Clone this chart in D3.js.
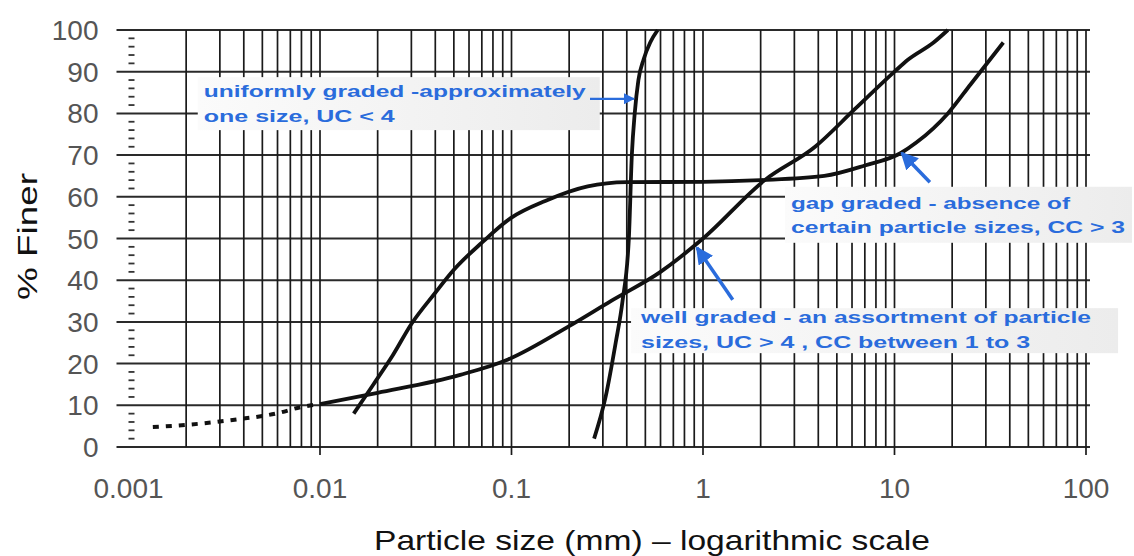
<!DOCTYPE html>
<html>
<head>
<meta charset="utf-8">
<script src="https://cdn.jsdelivr.net/npm/d3@7"></script>
<style>
  body { margin: 0; background: #fff; }
  svg { display: block; font-family: "Liberation Sans", Arial, sans-serif; }
</style>
</head>
<body>
<svg width="1134" height="556"></svg>
<script>
var canvas = d3.select("svg");

var iWidth = +canvas.attr("width");
var iHeight = +canvas.attr("height");

var margin = { top: 30, right: 48, bottom: 109, left: 128.5 };
var iInnerWidth = iWidth - margin.left - margin.right;
var iInnerHeight = iHeight - margin.top - margin.bottom;

var colorGrid = "#1a1a1a";
var colorCurve = "#111111";
var colorNote = "#2a6cdc";
var colorTick = "#555555";

// tick labels
var xTicks = [0.001, 0.01, 0.1, 1, 10, 100];
var xTickLabels = ["0.001", "0.01", "0.1", "1", "10", "100"];
var yTicks = [0, 10, 20, 30, 40, 50, 60, 70, 80, 90, 100];

// curves: [size mm, % finer]
var uniformSize = [0.27, 0.31, 0.35, 0.38, 0.41, 0.425, 0.44, 0.46, 0.49, 0.53, 0.58];
var uniformFiner = [2, 12, 25, 35, 50, 70, 80, 88, 93, 97, 100];

var gapSize = [0.015, 0.019, 0.024, 0.03, 0.04, 0.05, 0.07, 0.1, 0.15, 0.25, 0.4, 1, 2, 4.3, 7, 10.8, 13, 19, 25, 37];
var gapFiner = [8, 15, 22, 29.5, 37, 42.5, 49, 55, 59, 62.5, 63.5, 63.6, 64, 65, 67.5, 70.5, 73, 80, 87, 97];

var wellDottedSize = [0.00134, 0.002, 0.0035, 0.006, 0.008, 0.01];
var wellDottedFiner = [4.8, 5.3, 6.5, 8.1, 9.6, 10.3];
var wellSize = [0.01, 0.02, 0.054, 0.096, 0.2, 0.33, 0.6, 1, 2.1, 3.85, 6.2, 10, 11.7, 16, 19];
var wellFiner = [10.3, 13, 17.3, 21, 29, 35, 42, 50, 64, 72, 81, 90, 92.8, 97, 100];

// annotations
var noteNames = ["uniform", "gap", "well"];
var noteLines = [
    ["uniformly graded -approximately", "one size, UC < 4"],
    ["gap graded - absence of", "certain particle sizes, CC > 3"],
    ["well graded - an assortment of particle", "sizes, UC > 4 , CC between 1 to 3"]
];
var noteBoxAt = [[0.0023, 88.7], [2.68, 62.4], [0.421, 33.3]];
var noteArrowFrom = [[0.257, 83.5], [15.3, 63.5], [1.43, 35.3]];
var noteArrowTo = [[0.435, 83.5], [10.9, 70.5], [0.93, 47.8]];

var xScale = d3.scaleLog()
    .domain([0.001, 100])
    .range([0, iInnerWidth]);

var yScale = d3.scaleLinear()
    .domain([0, 100])
    .range([iInnerHeight, 0]);

var plot = canvas.append("g")
    .attr("transform", `translate(${margin.left},${margin.top})`);

// horizontal grid
plot.append("g").selectAll("line")
    .data(yTicks)
    .enter()
    .append("line")
    .attr("x1", -12)
    .attr("x2", iInnerWidth + 4)
    .attr("y1", d => yScale(d))
    .attr("y2", d => yScale(d))
    .attr("stroke", "#2a2a2a")
    .attr("stroke-width", 2);

// vertical grid: 2..9 of every decade plus decade lines
var vLines = [];
for (var dec = 0.001; dec < 100; dec *= 10) {
    for (var k = 2; k <= 10; k++) vLines.push(+(dec * k).toPrecision(3));
}
plot.append("g").selectAll("line")
    .data(vLines)
    .enter()
    .append("line")
    .attr("x1", d => xScale(d))
    .attr("x2", d => xScale(d))
    .attr("y1", 0)
    .attr("y2", d => xTicks.indexOf(d) >= 0 ? iInnerHeight + 8 : iInnerHeight)
    .attr("stroke", colorGrid)
    .attr("stroke-width", 1.7);

// small y ticks every 2%
var yMinor = d3.range(2, 100, 2).filter(d => d % 10 !== 0);
plot.append("g").selectAll("line")
    .data(yMinor)
    .enter()
    .append("line")
    .attr("x1", 0)
    .attr("x2", 6)
    .attr("y1", d => yScale(d))
    .attr("y2", d => yScale(d))
    .attr("stroke", "#333")
    .attr("stroke-width", 1.8);

// tick labels
plot.append("g").selectAll("text")
    .data(yTicks)
    .enter()
    .append("text")
    .attr("x", -30)
    .attr("y", d => yScale(d) + 10)
    .attr("text-anchor", "end")
    .attr("font-size", 28)
    .attr("fill", colorTick)
    .text(d => d);

plot.append("g").selectAll("text")
    .data(xTicks)
    .enter()
    .append("text")
    .attr("x", d => xScale(d))
    .attr("y", iInnerHeight + 51)
    .attr("text-anchor", "middle")
    .attr("font-size", 28)
    .attr("fill", colorTick)
    .text((d, i) => xTickLabels[i]);

// note boxes sit over the grid
var noteBoxSize = [[402, 53], [347, 56], [487, 45]];
var noteTextDx = [6, 6, 10];
var noteTextDy = [[20, 45], [22, 46], [15, 40]];
var noteTextW = [[382, 191], [279, 334], [450, 389]];

var grad = canvas.append("defs").append("linearGradient").attr("id", "boxfill");
grad.append("stop").attr("offset", "0%").attr("stop-color", "#fbfbfb");
grad.append("stop").attr("offset", "100%").attr("stop-color", "#ececec");

var notes = plot.append("g").selectAll("g")
    .data(noteNames)
    .enter()
    .append("g")
    .attr("transform", (d, i) => `translate(${xScale(noteBoxAt[i][0])},${yScale(noteBoxAt[i][1])})`);

notes.append("rect")
    .attr("width", (d, i) => noteBoxSize[i][0])
    .attr("height", (d, i) => noteBoxSize[i][1])
    .attr("fill", "url(#boxfill)");

notes.each(function (d, i) {
    var g = d3.select(this);
    noteLines[i].forEach(function (line, j) {
        g.append("text")
            .attr("x", noteTextDx[i])
            .attr("y", noteTextDy[i][j])
            .attr("font-size", 16)
            .attr("font-weight", "bold")
            .attr("fill", colorNote)
            .attr("textLength", noteTextW[i][j])
            .attr("lengthAdjust", "spacingAndGlyphs")
            .text(line);
    });
});

// curves
var line = d3.line()
    .x(d => xScale(d[0]))
    .y(d => yScale(d[1]))
    .curve(d3.curveMonotoneX);

function pairs(xs, ys) {
    return xs.map((v, i) => [v, ys[i]]);
}

var curves = [pairs(uniformSize, uniformFiner), pairs(gapSize, gapFiner), pairs(wellSize, wellFiner)];

plot.append("g").selectAll("path")
    .data(curves)
    .enter()
    .append("path")
    .attr("d", line)
    .attr("fill", "none")
    .attr("stroke", colorCurve)
    .attr("stroke-width", 3.8)
    .attr("stroke-linejoin", "round");

plot.append("path")
    .attr("d", line(pairs(wellDottedSize, wellDottedFiner)))
    .attr("fill", "none")
    .attr("stroke", colorCurve)
    .attr("stroke-width", 4)
    .attr("stroke-dasharray", "6,7");

// arrows
canvas.select("defs").append("marker")
    .attr("id", "head")
    .attr("viewBox", "0 0 10 10")
    .attr("refX", 9)
    .attr("refY", 5)
    .attr("markerWidth", 5)
    .attr("markerHeight", 5)
    .attr("orient", "auto")
    .append("path")
    .attr("d", "M0,0 L10,5 L0,10 z")
    .attr("fill", colorNote);

plot.append("g").selectAll("line")
    .data(noteNames)
    .enter()
    .append("line")
    .attr("x1", (d, i) => xScale(noteArrowFrom[i][0]))
    .attr("y1", (d, i) => yScale(noteArrowFrom[i][1]))
    .attr("x2", (d, i) => xScale(noteArrowTo[i][0]))
    .attr("y2", (d, i) => yScale(noteArrowTo[i][1]))
    .attr("stroke", colorNote)
    .attr("stroke-width", (d, i) => i === 0 ? 2.2 : 3.5)
    .attr("marker-end", "url(#head)");

// axis titles
canvas.append("text")
    .attr("transform", "translate(37,300) rotate(-90)")
    .attr("font-size", 27)
    .attr("fill", "#111")
    .attr("textLength", 127)
    .attr("lengthAdjust", "spacingAndGlyphs")
    .text("% Finer");

canvas.append("text")
    .attr("x", 374)
    .attr("y", 550)
    .attr("font-size", 28)
    .attr("fill", "#111")
    .attr("textLength", 556)
    .attr("lengthAdjust", "spacingAndGlyphs")
    .text("Particle size (mm) \u2013 logarithmic scale");
</script>
</body>
</html>
